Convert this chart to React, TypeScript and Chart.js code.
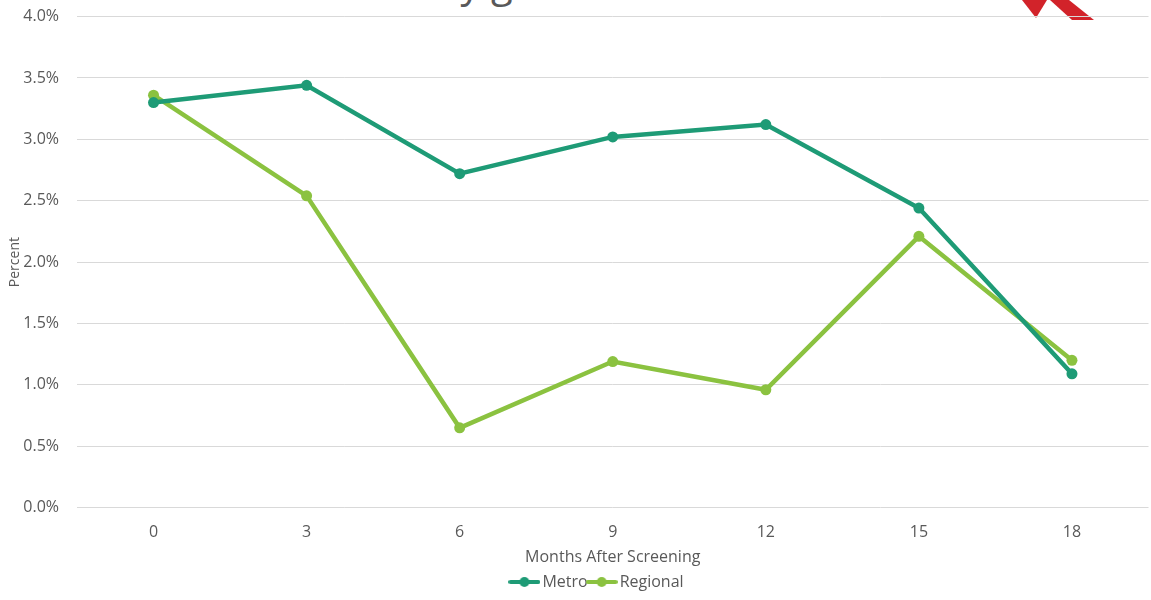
import React, { useEffect, useRef } from "react";
import { Chart, registerables } from "chart.js";

Chart.register(...registerables);

const months = ["0", "3", "6", "9", "12", "15", "18"];
const metro = [3.3, 3.44, 2.72, 3.02, 3.12, 2.44, 1.09];
const regional = [3.36, 2.54, 0.65, 1.19, 0.96, 2.21, 1.2];
const seriesNames = ["Metro", "Regional"];
const seriesColors = ["#1E9B76", "#8BC240"];

const FONT = "'Open Sans', 'DejaVu Sans', sans-serif";
const TEXT = "#595959";

function makeMarker(color: string): HTMLCanvasElement {
  const c = document.createElement("canvas");
  c.width = 32;
  c.height = 12;
  const ctx = c.getContext("2d")!;
  ctx.strokeStyle = color;
  ctx.lineWidth = 4;
  ctx.lineCap = "round";
  ctx.beginPath();
  ctx.moveTo(2, 6);
  ctx.lineTo(30, 6);
  ctx.stroke();
  ctx.fillStyle = color;
  ctx.beginPath();
  ctx.arc(16, 6, 5, 0, Math.PI * 2);
  ctx.fill();
  return c;
}

const shiftLegend = {
  id: "shiftLegend",
  afterLayout(chart: any) {
    if (chart.legend) {
      chart.legend.left += 20;
      chart.legend.right += 20;
    }
  },
};

export default function App() {
  const ref = useRef<HTMLCanvasElement | null>(null);

  useEffect(() => {
    if (!ref.current) return;
    const markers = seriesColors.map(makeMarker);
    const ds = (i: number, data: number[]) => ({
      label: seriesNames[i],
      data,
      borderColor: seriesColors[i],
      backgroundColor: seriesColors[i],
      borderWidth: 4.5,
      pointRadius: 5.5,
      pointBackgroundColor: seriesColors[i],
      pointBorderWidth: 0,
      tension: 0,
    });
    const chart = new Chart(ref.current, {
      type: "line",
      data: {
        labels: months,
        datasets: [ds(0, metro), ds(1, regional)],
      },
      plugins: [shiftLegend],
      options: {
        animation: false,
        responsive: false,
        maintainAspectRatio: false,
        layout: { padding: { top: 0, right: 3, left: 7, bottom: 0 } },
        scales: {
          x: {
            offset: true,
            grid: { display: false, drawTicks: false },
            border: { display: false },
            ticks: { color: TEXT, font: { family: FONT, size: 16 }, padding: 15 },
            title: {
              display: true,
              text: "Months After Screening",
              color: TEXT,
              font: { family: FONT, size: 16 },
              padding: { top: -9, bottom: 3 },
            },
          },
          y: {
            min: 0,
            max: 4,
            grid: { color: "#d9d9d9", lineWidth: 1, drawTicks: false },
            border: { display: false },
            afterFit: (scale: any) => {
              scale.width = 70;
            },
            ticks: {
              stepSize: 0.5,
              color: TEXT,
              font: { family: FONT, size: 16 },
              padding: 18,
              callback: (v: any) => Number(v).toFixed(1) + "%",
            },
            title: {
              display: true,
              text: "Percent",
              color: TEXT,
              font: { family: FONT, size: 14 },
              padding: { top: 0, bottom: 0 },
            },
          },
        },
        plugins: {
          tooltip: { enabled: false },
          legend: {
            position: "bottom",
            labels: {
              color: TEXT,
              font: { family: FONT, size: 16 },
              usePointStyle: true,
              pointStyleWidth: 20,
              padding: 4,
              generateLabels: (ch: any) => {
                const items = Chart.defaults.plugins.legend.labels.generateLabels(ch);
                return items.map((it: any, i: number) => ({ ...it, pointStyle: markers[i] }));
              },
            },
          },
        },
      },
    });
    return () => chart.destroy();
  }, []);

  return (
    <div style={{ position: "fixed", left: 0, top: 0, width: 1151, height: 600, background: "#fff", overflow: "hidden" }}>
      <div
        style={{
          position: "absolute",
          right: 1151 - 436,
          top: -46,
          fontFamily: FONT,
          fontSize: 40,
          color: TEXT,
          whiteSpace: "nowrap",
          lineHeight: "normal",
        }}
      >
        Return Rate&nbsp;
      </div>
      <div
        style={{
          position: "absolute",
          left: 436,
          top: -46,
          fontFamily: FONT,
          fontSize: 40,
          color: TEXT,
          whiteSpace: "nowrap",
          lineHeight: "normal",
        }}
      >
        by gender
      </div>
      <svg style={{ position: "absolute", left: 0, top: 0 }} width={1151} height={30}>
        <polygon points="1022,0 1047,0 1036,18" fill="#D2232A" />
        <polygon points="1050,0 1069,0 1094,20 1072,20" fill="#D2232A" />
      </svg>
      <canvas ref={ref} width={1154} height={611} style={{ position: "absolute", left: 0, top: -11 }} />
    </div>
  );
}
